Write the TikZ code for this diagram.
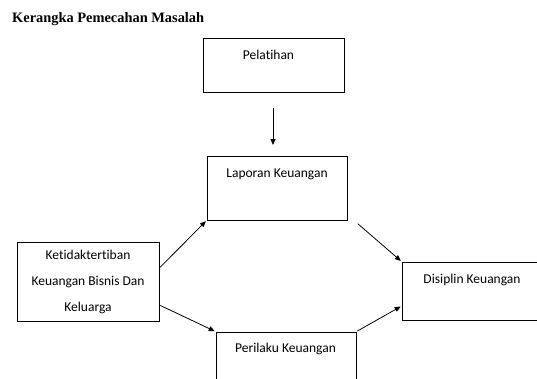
\documentclass[tikz,border=0pt]{standalone}
\usepackage{fontspec}
\setmainfont{Carlito}[RawFeature=-liga]
\newfontfamily\titlefont{Liberation Serif}
\usetikzlibrary{arrows.meta}
\tikzset{
  box/.style={draw, line width=0.8pt, rectangle, inner sep=0pt},
  boxtext/.style={font=\fontsize{13.5}{15}\selectfont, anchor=base},
  conn/.style={line width=0.8pt, -{Triangle[length=6pt,width=5pt]}, shorten >=1pt, shorten <=1pt}
}
\begin{document}
\begin{tikzpicture}[x=1pt,y=-1pt]
\useasboundingbox (0,0) rectangle (537,378);
\clip (0,0) rectangle (537,378);
\node[anchor=base west, font=\titlefont\bfseries\fontsize{14.4}{16}\selectfont, inner sep=0pt] (title) at (12,22) {Kerangka Pemecahan Masalah};
% boxes
\node[box, minimum width=141pt, minimum height=54pt] (pel) at (273.5,65) {};
\node[boxtext] (pelt) at (268.5,59) {Pelatihan};
\node[box, minimum width=140pt, minimum height=64pt] (lap) at (277,188) {};
\node[boxtext] (lapt) at (277,177) {Laporan Keuangan};
\node[box, minimum width=142pt, minimum height=79pt, align=center, font=\fontsize{13.5}{26}\selectfont] (ket) at (88,281.5) {Ketidaktertiban\\Keuangan Bisnis Dan\\Keluarga};
\node[box, minimum width=150pt, minimum height=58pt] (dis) at (477,291) {};
\node[boxtext] (dist) at (472,283) {Disiplin Keuangan};
\node[box, minimum width=140pt, minimum height=70pt] (per) at (286,367) {};
\node[boxtext] (pert) at (285.5,352) {Perilaku Keuangan};
% connectors
\coordinate (a1) at (273,108);
\coordinate (a2) at (273,146);
\draw[conn, shorten <=0pt] (a1) -- (a2);
\draw[conn] (ket.east |- 0,268) -- (lap.south west);
\draw[conn] (ket.east |- 0,305) -- (per.north west);
\draw[conn] (357,223) -- (dis.north west);
\draw[conn] (per.north east) -- (dis.west |- 0,306);
\end{tikzpicture}
\end{document}
